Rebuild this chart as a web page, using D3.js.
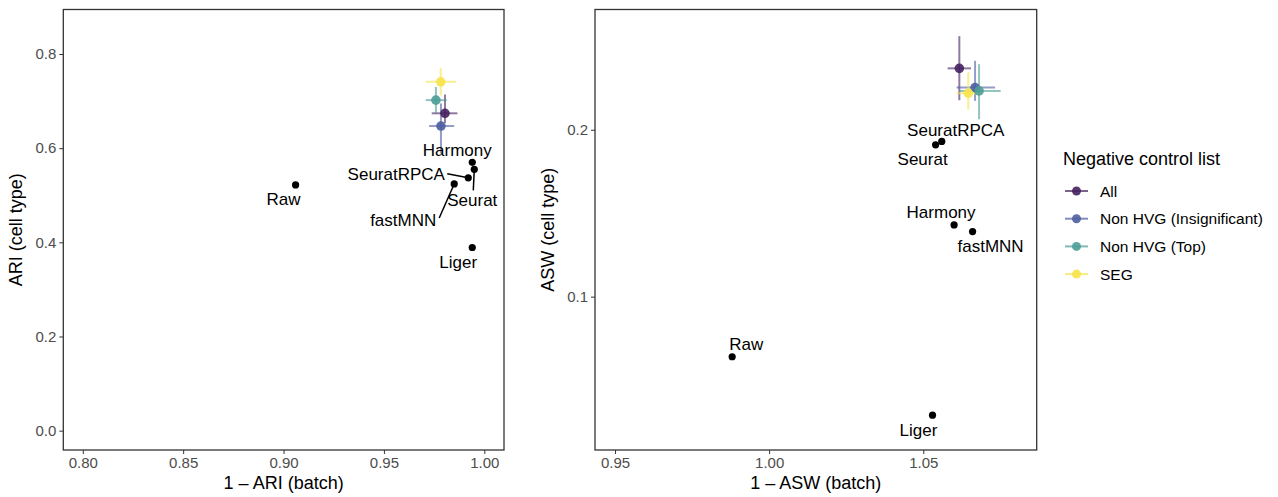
<!DOCTYPE html>
<html lang="en">
<head>
<meta charset="utf-8">
<title>ARI / ASW integration benchmark</title>
<script src="https://cdn.jsdelivr.net/npm/d3@7"></script>
<style>
  body { margin: 0; background: #fff; }
  svg text { font-family: "Liberation Sans", Arial, Helvetica, sans-serif; }
  .tick text { fill: #4d4d4d; font-size: 15px; }
  .tick line { stroke: #333; }
  .domain { display: none; }
</style>
</head>
<body>
<script>
// integration methods (black points)
var methods = ["Raw", "Harmony", "Seurat", "SeuratRPCA", "fastMNN", "Liger"];
var ariBatch = [0.906, 0.994, 0.995, 0.992, 0.985, 0.994];
var ariCell  = [0.522, 0.570, 0.555, 0.537, 0.524, 0.389];
var aswBatch = [0.988, 1.060, 1.054, 1.056, 1.066, 1.053];
var aswCell  = [0.064, 0.143, 0.191, 0.193, 0.139, 0.029];

// negative control lists (mean + range)
var controlLists = ["All", "Non HVG (Insignificant)", "Non HVG (Top)", "SEG"];
var ctrlColors = ["#46215e", "#4e5d9f", "#4c9d97", "#f6e34a"];
var ariBatchMean = [0.9804, 0.9784, 0.9759, 0.9783];
var ariBatchLo   = [0.9738, 0.9725, 0.9708, 0.9708];
var ariBatchHi   = [0.9866, 0.9850, 0.9813, 0.9859];
var ariCellMean  = [0.674, 0.647, 0.702, 0.741];
var ariCellLo    = [0.653, 0.589, 0.674, 0.712];
var ariCellHi    = [0.714, 0.695, 0.730, 0.770];
var aswBatchMean = [1.0617, 1.0668, 1.0681, 1.0646];
var aswBatchLo   = [1.0579, 1.0608, 1.0619, 1.0608];
var aswBatchHi   = [1.0655, 1.0733, 1.0751, 1.0684];
var aswCellMean  = [0.2368, 0.2253, 0.2233, 0.2219];
var aswCellLo    = [0.2177, 0.2173, 0.2063, 0.2122];
var aswCellHi    = [0.2561, 0.2413, 0.2393, 0.2344];

// ticks
var ariXTicks = [0.80, 0.85, 0.90, 0.95, 1.00];
var ariYTicks = [0.0, 0.2, 0.4, 0.6, 0.8];
var aswXTicks = [0.95, 1.00, 1.05];
var aswYTicks = [0.1, 0.2];

// label placement (pixel offsets from the point, like ggrepel output)
var ariLabelPos = [
  {dx: -12, dy: 14}, {dx: -15, dy: -12},
  {dx: -2, dy: 31, sx: -1, sy: 21},
  {dx: -72, dy: -4, sx: -21, sy: -4},
  {dx: -51, dy: 36, sx: -15, sy: 34},
  {dx: -14, dy: 14}
];
var aswLabelPos = [
  {dx: 14, dy: -13}, {dx: -13, dy: -13}, {dx: -13, dy: 14},
  {dx: 14, dy: -12}, {dx: 18, dy: 14}, {dx: -14, dy: 15}
];

var W = 1278, H = 497;
var svg = d3.select("body").append("svg").attr("width", W).attr("height", H);

function drawPanel(p) {
  var x = d3.scaleLinear().domain(p.xDomain).range([p.left, p.right]);
  var y = d3.scaleLinear().domain(p.yDomain).range([p.bottom, p.top]);
  var g = svg.append("g");

  g.append("g").attr("transform", "translate(0," + p.bottom + ")")
    .call(d3.axisBottom(x).tickValues(p.xTicks).tickFormat(d3.format(".2f")).tickSize(4).tickPadding(3));
  g.append("g").attr("transform", "translate(" + p.left + ",0)")
    .call(d3.axisLeft(y).tickValues(p.yTicks).tickFormat(d3.format(".1f")).tickSize(4).tickPadding(3));

  g.append("rect")
    .attr("x", p.left).attr("y", p.top)
    .attr("width", p.right - p.left).attr("height", p.bottom - p.top)
    .attr("fill", "none").attr("stroke", "#333").attr("stroke-width", 1.3);

  g.append("text")
    .attr("x", (p.left + p.right) / 2).attr("y", 489)
    .attr("text-anchor", "middle").style("font-size", "18px")
    .text(p.xTitle);
  g.append("text")
    .attr("transform", "translate(" + (p.left - 41) + "," + ((p.top + p.bottom) / 2) + ") rotate(-90)")
    .attr("text-anchor", "middle").style("font-size", "18px")
    .text(p.yTitle);

  // control list error bars
  var ctrl = g.append("g");
  controlLists.forEach(function (c, i) {
    ctrl.append("line")
      .attr("x1", x(p.cxLo[i])).attr("x2", x(p.cxHi[i]))
      .attr("y1", y(p.cy[i])).attr("y2", y(p.cy[i]))
      .attr("stroke", ctrlColors[i]).attr("stroke-width", 2).attr("opacity", 0.6);
    ctrl.append("line")
      .attr("x1", x(p.cx[i])).attr("x2", x(p.cx[i]))
      .attr("y1", y(p.cyLo[i])).attr("y2", y(p.cyHi[i]))
      .attr("stroke", ctrlColors[i]).attr("stroke-width", 2).attr("opacity", 0.6);
  });
  controlLists.forEach(function (c, i) {
    ctrl.append("circle")
      .attr("cx", x(p.cx[i])).attr("cy", y(p.cy[i])).attr("r", 4.8)
      .attr("fill", ctrlColors[i]).attr("opacity", 0.9);
  });

  // methods
  methods.forEach(function (m, i) {
    var px = x(p.mx[i]), py = y(p.my[i]), lp = p.labels[i];
    if (lp.sx !== undefined) {
      g.append("line")
        .attr("x1", px).attr("y1", py)
        .attr("x2", px + lp.sx).attr("y2", py + lp.sy)
        .attr("stroke", "#000").attr("stroke-width", 1.5);
    }
    g.append("circle").attr("cx", px).attr("cy", py).attr("r", 3.6).attr("fill", "#000");
    g.append("text")
      .attr("x", px + lp.dx).attr("y", py + lp.dy).attr("dy", "0.36em")
      .attr("text-anchor", "middle").style("font-size", "17px").attr("fill", "#000")
      .text(m);
  });
}

drawPanel({
  left: 63.3, right: 504, top: 9.5, bottom: 450,
  xDomain: [0.7903, 1.0098], yDomain: [-0.0411, 0.8945],
  xTicks: ariXTicks, yTicks: ariYTicks,
  xTitle: "1 \u2013 ARI (batch)", yTitle: "ARI (cell type)",
  mx: ariBatch, my: ariCell, labels: ariLabelPos,
  cx: ariBatchMean, cxLo: ariBatchLo, cxHi: ariBatchHi,
  cy: ariCellMean, cyLo: ariCellLo, cyHi: ariCellHi
});

drawPanel({
  left: 595, right: 1036.7, top: 9.5, bottom: 450,
  xDomain: [0.9435, 1.0868], yDomain: [0.00811, 0.27207],
  xTicks: aswXTicks, yTicks: aswYTicks,
  xTitle: "1 \u2013 ASW (batch)", yTitle: "ASW (cell type)",
  mx: aswBatch, my: aswCell, labels: aswLabelPos,
  cx: aswBatchMean, cxLo: aswBatchLo, cxHi: aswBatchHi,
  cy: aswCellMean, cyLo: aswCellLo, cyHi: aswCellHi
});

// legend
var legend = svg.append("g").attr("transform", "translate(1063,0)");
legend.append("text").attr("x", 0).attr("y", 159).attr("dy", "0.36em")
  .style("font-size", "18px").text("Negative control list");
controlLists.forEach(function (c, i) {
  var ly = 191 + i * 27.7;
  legend.append("line").attr("x1", 2).attr("x2", 25).attr("y1", ly).attr("y2", ly)
    .attr("stroke", ctrlColors[i]).attr("stroke-width", 2).attr("opacity", 0.7);
  legend.append("circle").attr("cx", 13.5).attr("cy", ly).attr("r", 4.5)
    .attr("fill", ctrlColors[i]).attr("opacity", 0.9);
  legend.append("text").attr("x", 37).attr("y", ly).attr("dy", "0.36em")
    .style("font-size", "15.5px").text(c);
});
</script>
</body>
</html>
